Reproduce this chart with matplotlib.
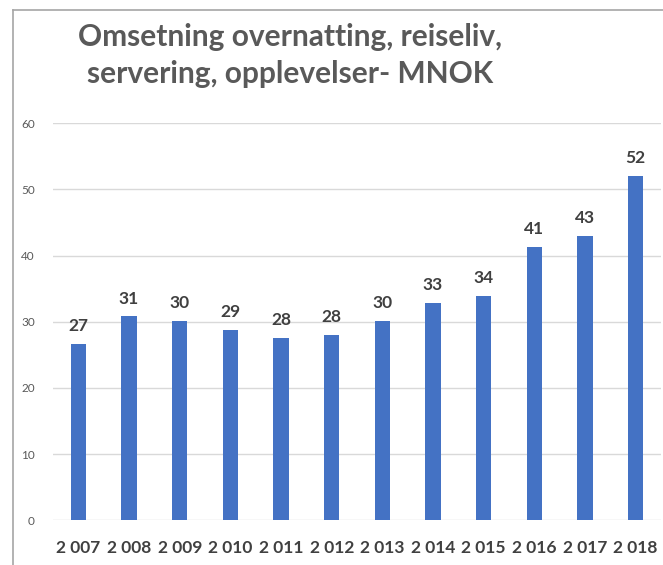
import matplotlib.pyplot as plt
from matplotlib.lines import Line2D

years = ["2 007", "2 008", "2 009", "2 010", "2 011", "2 012",
         "2 013", "2 014", "2 015", "2 016", "2 017", "2 018"]
values = [26.6, 30.8, 30.1, 28.7, 27.6, 28.0, 30.1, 32.8, 33.9, 41.3, 43.0, 52.0]
title = "Omsetning overnatting, reiseliv,\nservering, opplevelser- MNOK"

plt.rcParams["font.family"] = ["Lato", "DejaVu Sans"]

fig = plt.figure(figsize=(6.63, 5.65), dpi=100)
ax = fig.add_axes([0.08, 0.079, 0.917, 0.703])

x = range(len(years))
bars = ax.bar(x, values, width=0.3, color="#4472C4", zorder=3)
for xi, v in zip(x, values):
    ax.text(xi, v + 1.5, f"{v:.0f}", ha="center", va="bottom",
            fontsize=12.5, fontweight="bold", color="#404040")

ax.set_xlim(-0.5, len(years) - 0.5)
ax.set_ylim(0, 60)
ax.set_yticks(range(0, 61, 10))
ax.set_xticks(list(x), years)
ax.grid(axis="y", color="#d9d9d9", linewidth=1, zorder=0)
for s in ax.spines.values():
    s.set_visible(False)
ax.tick_params(axis="both", length=0)
ax.tick_params(axis="y", labelsize=8.5, labelcolor="#595959", pad=13)
ax.tick_params(axis="x", labelsize=12.5, labelcolor="#404040", pad=14)
for lab in ax.get_xticklabels():
    lab.set_fontweight("bold")

fig.text(0.437, 0.96, title, ha="center", va="top", fontsize=21.5,
         fontweight="bold", color="#595959", linespacing=1.4)

# outer frame (top and left edge visible in the crop)
fig.add_artist(Line2D([0.02, 1.0], [0.982, 0.982], color="#a6a6a6", lw=1.2))
fig.add_artist(Line2D([0.02, 0.02], [0.0, 0.982], color="#a6a6a6", lw=1.2))

fig.savefig("out.png", dpi=100)
